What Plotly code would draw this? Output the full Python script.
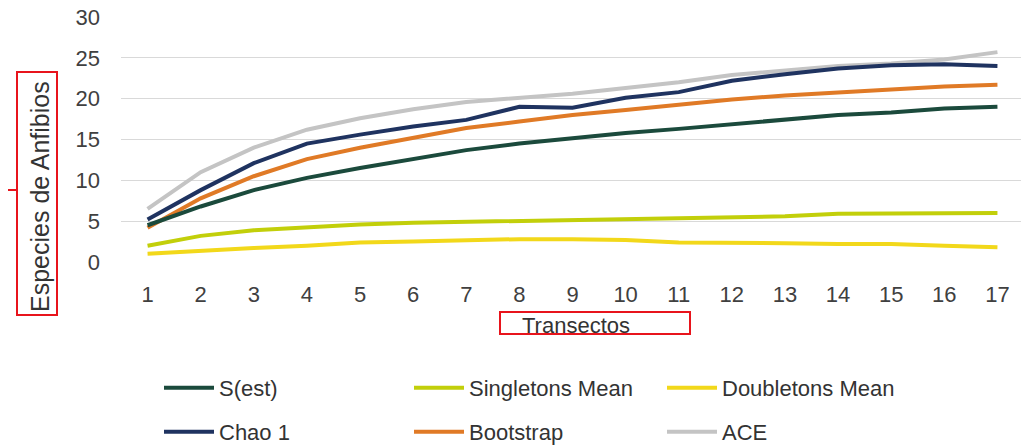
import plotly.graph_objects as go

transectos = list(range(1, 18))
s_est = [4.5, 6.8, 8.8, 10.3, 11.5, 12.6, 13.7, 14.5, 15.2, 15.8, 16.3, 16.9, 17.4, 18.0, 18.3, 18.8, 19.0]
singletons = [2.0, 3.2, 3.9, 4.3, 4.6, 4.8, 4.9, 5.0, 5.1, 5.3, 5.3, 5.5, 5.6, 5.9, 5.9, 5.9, 6.0]
doubletons = [1.0, 1.4, 1.7, 2.0, 2.4, 2.5, 2.7, 2.8, 2.8, 2.7, 2.4, 2.4, 2.3, 2.2, 2.2, 2.0, 1.8]
chao1 = [5.2, 8.8, 12.1, 14.5, 15.6, 16.6, 17.4, 19.0, 18.9, 20.1, 20.8, 22.2, 23.0, 23.7, 24.1, 24.2, 24.0]
bootstrap = [4.2, 7.8, 10.5, 12.6, 14.0, 15.2, 16.4, 17.2, 18.0, 18.6, 19.3, 19.9, 20.4, 20.8, 21.2, 21.5, 21.7]
ace = [6.5, 11.0, 14.0, 16.2, 17.6, 18.7, 19.6, 20.1, 20.6, 21.3, 22.0, 22.9, 23.4, 24.0, 24.3, 24.8, 25.7]
y_ticks = [0, 5, 10, 15, 20, 25, 30]

series = [
    ("S(est)", s_est, "#1b4a3c"),
    ("Singletons Mean", singletons, "#c2cf0a"),
    ("Doubletons Mean", doubletons, "#f2d81a"),
    ("Chao 1", chao1, "#1f3360"),
    ("Bootstrap", bootstrap, "#e07a26"),
    ("ACE", ace, "#c4c4c4"),
]
legend_names = ["legend", "legend2", "legend3", "legend4", "legend5", "legend6"]

# page body adds an 8px offset; targets below are given in window pixels
OFF = 8
W, H = 1029, 445
L, R, T, B = 113, 13, 9, 191
pw, ph = W - L - R, H - T - B

def px(x):
    return (x - OFF - L) / pw

def py(y):
    return (H - B - (y - OFF)) / ph

fig = go.Figure()
order = [5, 2, 1, 4, 0, 3]
for i in order:
    name, vals, col = series[i]
    fig.add_trace(go.Scatter(x=transectos, y=vals, mode="lines", name=name,
                             line=dict(color=col, width=4),
                             legend=legend_names[i]))

font_fam = "Liberation Sans, Arial, sans-serif"
layout = dict(
    width=W, height=H,
    margin=dict(l=L, r=R, t=T, b=B, autoexpand=False),
    paper_bgcolor="white", plot_bgcolor="white",
    font=dict(family=font_fam, color="#404040"),
    xaxis=dict(range=[0.5, 17.5], tickmode="array", tickvals=transectos,
               ticktext=[str(t) for t in transectos], showgrid=False,
               zeroline=False, showline=False, ticks="",
               tickfont=dict(size=22, color="#404040"), ticklabelstandoff=17,
               ticklabeloverflow="allow"),
    yaxis=dict(range=[0, 30], tickmode="array", tickvals=y_ticks,
               ticktext=[str(v) for v in y_ticks],
               showgrid=True, gridcolor="#d9d9d9", gridwidth=1,
               zeroline=False, showline=False, ticks="",
               tickfont=dict(size=22, color="#404040"), ticklabelstandoff=20,
               ticklabeloverflow="allow"),
    showlegend=True,
)
col_x = [159, 409, 662]
row_y = [388, 432]
for i, lg in enumerate(legend_names):
    layout[lg] = dict(x=px(col_x[i % 3]), y=py(row_y[i // 3]), yanchor="middle",
                      xanchor="left", orientation="h",
                      font=dict(size=22, color="#333333"),
                      bgcolor="rgba(0,0,0,0)", itemwidth=50)
fig.update_layout(**layout)

fig.add_annotation(text="Transectos", xref="paper", yref="paper",
                   x=px(576), y=py(325), xanchor="center", yanchor="middle",
                   showarrow=False, font=dict(size=22, color="#333333"))
fig.add_annotation(text="Especies de Anfibios", xref="paper", yref="paper",
                   x=px(40), y=py(197), xanchor="center", yanchor="middle",
                   showarrow=False, textangle=-90,
                   font=dict(size=25, color="#333333"))

red = dict(color="#e8141c", width=2)
fig.add_shape(type="rect", xref="paper", yref="paper",
              x0=px(17), x1=px(57), y0=py(72), y1=py(315), line=red)
fig.add_shape(type="line", xref="paper", yref="paper",
              x0=px(0), x1=px(17), y0=py(190), y1=py(190), line=red)
fig.add_shape(type="rect", xref="paper", yref="paper",
              x0=px(500), x1=px(690), y0=py(312), y1=py(334), line=red)

fig.write_html("out.html")
